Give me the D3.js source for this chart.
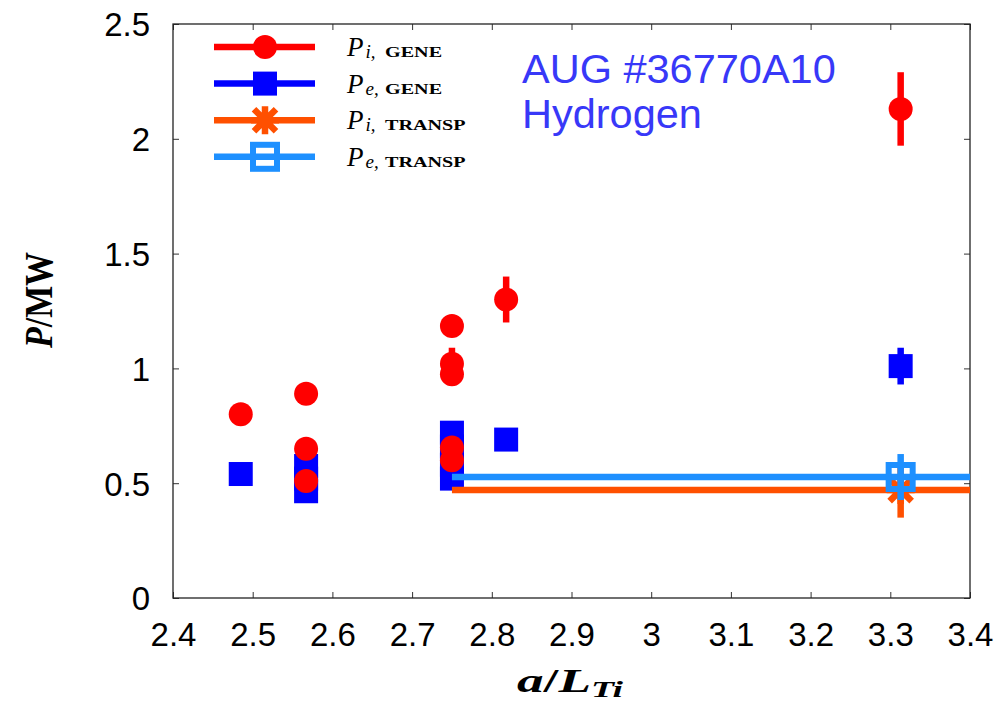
<!DOCTYPE html>
<html><head><meta charset="utf-8">
<script src="https://cdn.jsdelivr.net/npm/d3@7"></script>
<style>body{margin:0;background:#fff}</style>
</head><body>
<svg id="c" width="1002" height="714"></svg>
<script>
// ---- data ----
const xTicks = [2.4,2.5,2.6,2.7,2.8,2.9,3.0,3.1,3.2,3.3,3.4];
const yTicks = [0,0.5,1,1.5,2,2.5];
const xTickLabels = ["2.4","2.5","2.6","2.7","2.8","2.9","3","3.1","3.2","3.3","3.4"];
const yTickLabels = ["0","0.5","1","1.5","2","2.5"];

const piGeneX   = [2.485, 2.567, 2.567, 2.567, 2.75, 2.75, 2.75, 2.75, 2.75, 2.818, 3.313];
const piGeneY   = [0.80, 0.89, 0.65, 0.51, 1.185, 1.02, 0.975, 0.655, 0.60, 1.30, 2.13];
const piGeneErr = [0.02, 0.02, 0.02, 0.02, 0.02, 0.07, 0.05, 0.03, 0.03, 0.10, 0.16];

const peGeneX   = [2.485, 2.567, 2.567, 2.567, 2.75, 2.75, 2.75, 2.75, 2.818, 3.313];
const peGeneY   = [0.54, 0.575, 0.52, 0.465, 0.72, 0.66, 0.58, 0.52, 0.69, 1.01];
const peGeneErr = [0.02, 0.02, 0.02, 0.02, 0.04, 0.03, 0.03, 0.03, 0.04, 0.08];

const piTranspLineX = [2.75, 3.4];
const piTranspLineY = [0.47, 0.47];
const piTranspPt = {x: 3.313, y: 0.47, err: 0.12};

const peTranspLineX = [2.75, 3.4];
const peTranspLineY = [0.527, 0.527];
const peTranspPt = {x: 3.313, y: 0.527, err: 0.10};

const annotation = ["AUG #36770A10", "Hydrogen"];

// ---- layout ----
const svg = d3.select("#c");
const L = 173, R = 970, T = 24, B = 598;
const x = d3.scaleLinear().domain([2.4,3.4]).range([L,R]);
const y = d3.scaleLinear().domain([0,2.5]).range([B,T]);

const cRed = "#ff0000", cBlue = "#0000ff", cOrange = "#ff5000", cLBlue = "#1e90ff";
const lw = 6.5;

svg.append("defs").append("clipPath").attr("id","pc")
  .append("rect").attr("x",L).attr("y",T).attr("width",R-L).attr("height",B-T);

// axes
const gx = svg.append("g").attr("transform",`translate(0,${B})`)
  .call(d3.axisBottom(x).tickValues(xTicks).tickFormat((d,i)=>xTickLabels[i]).tickSize(-6).tickPadding(25));
const gxt = svg.append("g").attr("transform",`translate(0,${T})`)
  .call(d3.axisTop(x).tickValues(xTicks).tickFormat("").tickSize(-6));
const gy = svg.append("g").attr("transform",`translate(${L},0)`)
  .call(d3.axisLeft(y).tickValues(yTicks).tickFormat((d,i)=>yTickLabels[i]).tickSize(-6).tickPadding(23));
const gyr = svg.append("g").attr("transform",`translate(${R},0)`)
  .call(d3.axisRight(y).tickValues(yTicks).tickFormat("").tickSize(-6));
[gx,gxt,gy,gyr].forEach(g=>{
  g.select(".domain").remove();
  g.selectAll(".tick line").attr("stroke","#333").attr("stroke-width",1);
  g.selectAll("text").attr("font-family","Liberation Sans, Arial, sans-serif").attr("font-size",33).attr("fill","#000");
});
gx.selectAll("text").attr("dy","0.71em");
gy.selectAll("text").attr("dy","0.36em");
svg.append("rect").attr("x",L).attr("y",T).attr("width",R-L).attr("height",B-T)
  .attr("fill","none").attr("stroke","#222").attr("stroke-width",1.3);

const plot = svg.append("g").attr("clip-path","url(#pc)");

// marker helpers
function errBar(g, px, py, e, col){
  g.append("line").attr("x1",x(px)).attr("x2",x(px)).attr("y1",y(py-e)).attr("y2",y(py+e))
    .attr("stroke",col).attr("stroke-width",lw);
}
function circ(g, cx, cy, col){ g.append("circle").attr("cx",cx).attr("cy",cy).attr("r",12).attr("fill",col); }
function sq(g, cx, cy, col){ g.append("rect").attr("x",cx-12).attr("y",cy-12).attr("width",24).attr("height",24).attr("fill",col); }
function star(g, cx, cy, col){
  const s=14, d=11;
  const p = `M${cx-s},${cy}L${cx+s},${cy}M${cx},${cy-s}L${cx},${cy+s}M${cx-d},${cy-d}L${cx+d},${cy+d}M${cx-d},${cy+d}L${cx+d},${cy-d}`;
  g.append("path").attr("d",p).attr("stroke",col).attr("stroke-width",lw).attr("fill","none");
}
function osq(g, cx, cy, col){
  g.append("rect").attr("x",cx-12).attr("y",cy-12).attr("width",24).attr("height",24)
    .attr("fill","none").attr("stroke",col).attr("stroke-width",6);
}

// Pe GENE
peGeneX.forEach((px,i)=>{ errBar(plot,px,peGeneY[i],peGeneErr[i],cBlue); sq(plot,x(px),y(peGeneY[i]),cBlue); });
// Pi GENE
piGeneX.forEach((px,i)=>{ errBar(plot,px,piGeneY[i],piGeneErr[i],cRed); circ(plot,x(px),y(piGeneY[i]),cRed); });

const line = d3.line().x(d=>x(d[0])).y(d=>y(d[1]));
// Pi TRANSP
plot.append("path").attr("d",line(piTranspLineX.map((v,i)=>[v,piTranspLineY[i]])))
  .attr("stroke",cOrange).attr("stroke-width",lw).attr("fill","none");
errBar(plot,piTranspPt.x,piTranspPt.y,piTranspPt.err,cOrange);
star(plot,x(piTranspPt.x),y(piTranspPt.y),cOrange);
// Pe TRANSP
plot.append("path").attr("d",line(peTranspLineX.map((v,i)=>[v,peTranspLineY[i]])))
  .attr("stroke",cLBlue).attr("stroke-width",lw).attr("fill","none");
errBar(plot,peTranspPt.x,peTranspPt.y,peTranspPt.err,cLBlue);
osq(plot,x(peTranspPt.x),y(peTranspPt.y),cLBlue);

// legend
const leg = [
  {sub:"i,", name:"GENE", col:cRed, m:circ},
  {sub:"e,", name:"GENE", col:cBlue, m:sq},
  {sub:"i,", name:"TRANSP", col:cOrange, m:star},
  {sub:"e,", name:"TRANSP", col:cLBlue, m:osq}
];
const serif = "Liberation Serif, Times New Roman, serif";
leg.forEach((d,i)=>{
  const ly = 47 + i*36.6;
  svg.append("line").attr("x1",214).attr("x2",315).attr("y1",ly).attr("y2",ly)
    .attr("stroke",d.col).attr("stroke-width",lw);
  d.m(svg,265,ly,d.col);
  const t = svg.append("text").attr("x",347).attr("y",ly+9)
    .attr("font-family",serif).attr("fill","#000");
  t.append("tspan").attr("font-size",27).attr("font-style","italic").text("P");
  t.append("tspan").attr("font-size",19).attr("font-style","italic").attr("dy",2).attr("dx",2).text(d.sub);
  svg.append("text").attr("transform",`translate(385,${ly+10}) scale(1.3,1)`)
    .attr("font-family",serif).attr("font-size",15.5).attr("font-weight","bold").attr("fill","#000").text(d.name);
});

// annotation
const sans = "Liberation Sans, Arial, sans-serif";
svg.append("text").attr("x",522).attr("y",83).attr("font-family",sans)
  .attr("font-size",41.5).attr("fill","#3838f8").text(annotation[0]);
svg.append("text").attr("x",522).attr("y",128).attr("font-family",sans)
  .attr("font-size",41.5).attr("fill","#3838f8").text(annotation[1]);

// axis titles
const yl = svg.append("text").attr("transform","translate(52,300) rotate(-90)").attr("text-anchor","middle")
  .attr("font-family",serif).attr("font-size",40).attr("font-weight","bold")
  .attr("textLength",96).attr("lengthAdjust","spacingAndGlyphs");
yl.append("tspan").attr("font-style","italic").text("P");
yl.append("tspan").text("/MW");
const xl = svg.append("text").attr("x",517).attr("y",692)
  .attr("font-family",serif).attr("font-size",34).attr("font-weight","bold")
  .attr("textLength",106).attr("lengthAdjust","spacingAndGlyphs");
xl.append("tspan").attr("font-style","italic").text("a");
xl.append("tspan").text("/");
xl.append("tspan").attr("font-style","italic").text("L");
xl.append("tspan").attr("font-style","italic").attr("font-size",24).attr("dy",5).text("Ti");
</script>
</body></html>
